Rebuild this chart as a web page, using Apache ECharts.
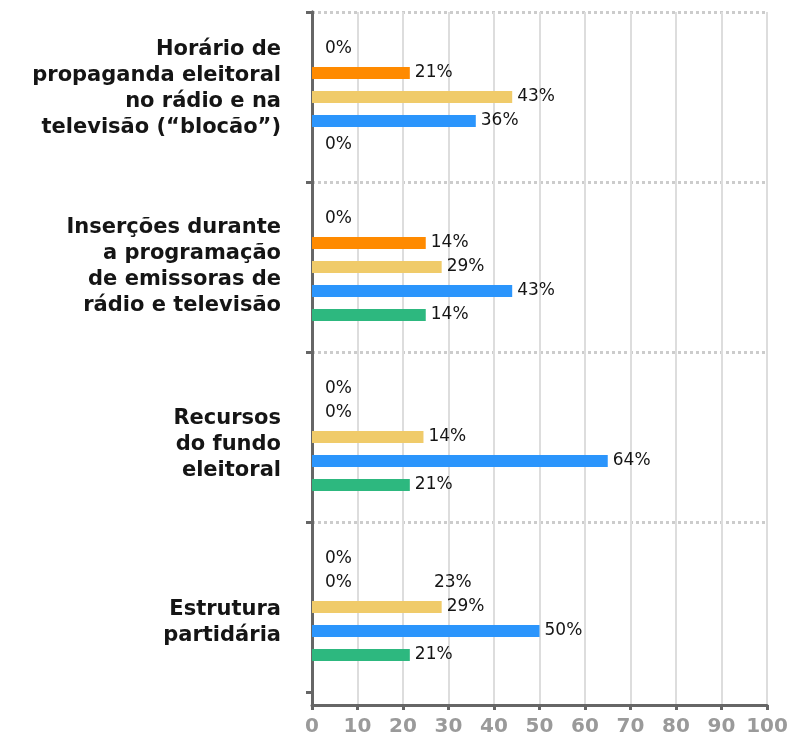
<!DOCTYPE html>
<html>
<head>
<meta charset="utf-8">
<script src="https://cdn.jsdelivr.net/npm/echarts@6/dist/echarts.min.js"></script>
<style>
  html, body { margin: 0; padding: 0; background: #ffffff; }
  #main { width: 792px; height: 741px; }
</style>
</head>
<body>
<div id="main"></div>
<script>
// ---- data ----
const categories = [
  'Horário de\npropaganda eleitoral\nno rádio e na\ntelevisão (“blocão”)',
  'Inserções durante\na programação\nde emissoras de\nrádio e televisão',
  'Recursos\ndo fundo\neleitoral',
  'Estrutura\npartidária'
];
const seriesNames = ['Série 1', 'Série 2', 'Série 3', 'Série 4', 'Série 5'];
// bar lengths as drawn in the picture
const barsS1 = [0, 0, 0, 0];
const barsS2 = [21.5, 25, 0, 0];
const barsS3 = [44, 28.5, 24.5, 28.5];
const barsS4 = [36, 44, 65, 50];
const barsS5 = [0, 25, 21.5, 21.5];
// label texts as printed in the picture
const labelsS1 = ['0%', '0%', '0%', '0%'];
const labelsS2 = ['21%', '14%', '0%', '0%'];
const labelsS3 = ['43%', '29%', '14%', '29%'];
const labelsS4 = ['36%', '43%', '64%', '50%'];
const labelsS5 = ['0%', '14%', '21%', '21%'];
// stray extra label printed next to series 2, last category
const extraLabelText = '23%';
const extraLabelSeries = 1;
const extraLabelIndex = 3;
const xTicks = { min: 0, max: 100, interval: 10 };

const colors = ['#9e9e9e', '#ff8a00', '#f0cb6a', '#2b95fc', '#2db87f'];
const allBars = [barsS1, barsS2, barsS3, barsS4, barsS5];
const allLabels = [labelsS1, labelsS2, labelsS3, labelsS4, labelsS5];

const FONT = '"DejaVu Sans", sans-serif';
const chart = echarts.init(document.getElementById('main'), null, { renderer: 'canvas' });

const series = allBars.map((vals, si) => ({
  type: 'bar',
  name: seriesNames[si],
  xAxisIndex: 0,
  yAxisIndex: 0,
  barWidth: 12,
  barGap: '100%',
  itemStyle: { color: colors[si] },
  data: vals.map(v => ({ value: v, label: { distance: v === 0 ? 13 : 5 } })),
  label: {
    show: true,
    position: 'right',
    color: '#151515',
    fontSize: 17,
    fontFamily: FONT,
    rich: { g: { width: 82 } },
    formatter: p => {
      let t = allLabels[si][p.dataIndex];
      if (si === extraLabelSeries && p.dataIndex === extraLabelIndex) t += '{g|}' + extraLabelText;
      return t;
    }
  }
}));

const option = {
  animation: false,
  backgroundColor: '#ffffff',
  grid: [
    { left: 312, right: 25, top: 12, height: 680 },
    { left: 312, right: 25, top: 12, bottom: 36 },
    { left: 312, right: 25, top: -8, height: 720 }
  ],
  xAxis: [
    { gridIndex: 0, type: 'value', min: xTicks.min, max: xTicks.max, interval: xTicks.interval, show: false },
    {
      gridIndex: 1, type: 'value', min: xTicks.min, max: xTicks.max, interval: xTicks.interval,
      axisLine: { show: true, lineStyle: { color: '#666666', width: 3 } },
      axisTick: { show: true, length: 5, lineStyle: { color: '#666666', width: 3 } },
      axisLabel: { color: '#9a9a9a', fontSize: 20, fontWeight: 'bold', fontFamily: FONT, margin: 12 },
      splitLine: { show: true, lineStyle: { color: '#dddddd', width: 2 } }
    },
    { gridIndex: 2, type: 'value', min: 0, max: 100, show: false }
  ],
  yAxis: [
    {
      gridIndex: 0, type: 'category', inverse: true, data: categories,
      axisLine: { show: true, lineStyle: { color: '#666666', width: 3 } },
      axisTick: { show: true, length: 6, lineStyle: { color: '#666666', width: 3 } },
      axisLabel: { show: false },
      splitLine: { show: true, showMaxLine: false, lineStyle: { type: 'dotted', color: '#cccccc', width: 3 } }
    },
    {
      gridIndex: 1, type: 'value', min: 0, max: 1,
      axisLine: { show: true, lineStyle: { color: '#666666', width: 3 } },
      axisTick: { show: false }, axisLabel: { show: false }, splitLine: { show: false }
    },
    {
      gridIndex: 2, type: 'category', inverse: true, data: categories,
      axisLine: { show: false }, axisTick: { show: false }, splitLine: { show: false },
      axisLabel: {
        color: '#151515', fontSize: 21, fontWeight: 'bold', fontFamily: FONT,
        lineHeight: 26, align: 'right', margin: 31
      }
    }
  ],
  series: series
};
chart.setOption(option);
</script>
</body>
</html>
